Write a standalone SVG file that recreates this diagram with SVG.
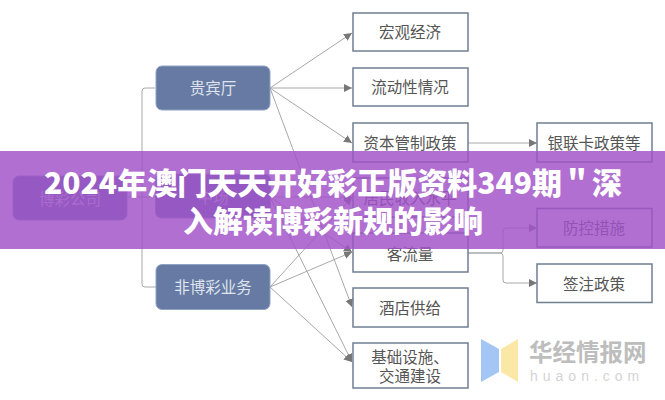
<svg xmlns="http://www.w3.org/2000/svg" width="665" height="400" viewBox="0 0 665 400">
<style>
.t{font-family:"Noto Sans CJK SC",sans-serif;font-size:15.5px;fill:#555;text-anchor:middle}
.w{font-family:"Noto Sans CJK SC",sans-serif;font-size:15.5px;fill:#dfe4ee;text-anchor:middle}
.n{fill:#fff;stroke:#6f7f90;stroke-width:1.5}
.b{fill:#667aa3;stroke:#8ea3c4;stroke-width:1}
.c{fill:none;stroke:#a8a8a8;stroke-width:1}
</style>
<defs><marker id="a" markerWidth="9" markerHeight="9" refX="8" refY="4.5" orient="auto" markerUnits="userSpaceOnUse"><path d="M0 0.5L8 4.5L0 8.5z" fill="#777"/></marker></defs>
<rect width="665" height="400" fill="#fff"/>
<g id="connectors">
<path class="c" d="M155 88H145Q142 88 142 91V284Q142 287 145 287H156"/><path class="c" d="M127 197H155"/>
<path class="c" marker-end="url(#a)" d="M270 88L352 33"/><path class="c" marker-end="url(#a)" d="M270 88H352"/><path class="c" marker-end="url(#a)" d="M270 88L352 143"/>
<path class="c" marker-end="url(#a)" d="M270 88L352 307"/><path class="c" marker-end="url(#a)" d="M270 197H352"/>
<path class="c" marker-end="url(#a)" d="M270 197L352 252"/><path class="c" marker-end="url(#a)" d="M270 197L352 362"/><path class="c" marker-end="url(#a)" d="M270 287L352 197"/>
<path class="c" marker-end="url(#a)" d="M270 287L352 252"/><path class="c" marker-end="url(#a)" d="M270 287L352 362"/>
<path class="c" marker-end="url(#a)" d="M468 143H537"/><path class="c" marker-end="url(#a)" d="M468 253H500Q503 253 503 250V231Q503 228 506 228H537"/><path class="c" marker-end="url(#a)" d="M468 253H500Q503 253 503 256V280Q503 283 506 283H537"/>
</g>
<g id="n0"><rect class="b" x="13" y="176" width="114" height="44" rx="6"/><text class="w" x="70" y="205">博彩公司</text></g>
<g id="n1"><rect class="b" x="156" y="66" width="114" height="44" rx="6"/><text class="w" x="213" y="94">贵宾厅</text></g>
<g id="n2"><rect class="b" x="155.500" y="174" width="115" height="44" rx="6"/><text class="w" x="213" y="203">中场</text></g>
<g id="n3"><rect class="b" x="156" y="264.500" width="114" height="45" rx="6"/><text class="w" x="213" y="293">非博彩业务</text></g>
<g id="n4"><rect class="n" x="353" y="13" width="115" height="38"/><text class="t" x="410" y="38">宏观经济</text></g>
<g id="n5"><rect class="n" x="353" y="68" width="115" height="38"/><text class="t" x="410" y="93">流动性情况</text></g>
<g id="n6"><rect class="n" x="353" y="123" width="115" height="39"/><text class="t" x="410" y="149">资本管制政策</text></g>
<g id="n7"><rect class="n" x="353" y="178" width="115" height="39"/><text class="t" x="410" y="204">居民收入水平</text></g>
<g id="n8"><rect class="n" x="353" y="233" width="115" height="39"/><text class="t" x="410" y="260">客流量</text></g>
<g id="n9"><rect class="n" x="353" y="288" width="115" height="39"/><text class="t" x="410" y="314">酒店供给</text></g>
<g id="n10"><rect class="n" x="353" y="343" width="115" height="45"/><text class="t" x="410" y="363">基础设施、</text><text class="t" x="410" y="382">交通建设</text></g>
<g id="n11"><rect class="n" x="537" y="123" width="115" height="39"/><text class="t" x="594" y="149">银联卡政策等</text></g>
<g id="n12"><rect class="n" x="537" y="208.500" width="115" height="38.500"/><text class="t" x="594" y="234">防控措施</text></g>
<g id="n13"><rect class="n" x="537" y="264" width="115" height="38.500"/><text class="t" x="594" y="290">签注政策</text></g>
<g id="logo"><path d="M481 339L499 349V372L481 382z" fill="#a3c6f5"/><path d="M518 339L501 349V372L518 382z" fill="#fbe8a6"/>
<text x="529" y="361" style="font-family:'Noto Sans CJK SC',sans-serif;font-size:23.500px;font-weight:700;fill:#bdbdbd">华经情报网</text>
<text x="530" y="381" style="font-family:'Liberation Sans',sans-serif;font-size:14px;letter-spacing:5px;fill:#d4d4d4">huaon.com</text></g>
<rect id="band" x="0" y="151" width="665" height="98" fill="#a052c8" fill-opacity=".83"/>
<g id="title" style="font-family:'Noto Sans CJK SC',sans-serif;font-size:30px;font-weight:900;fill:#fff;text-anchor:middle"><text x="333" y="194">2024年澳门天天开好彩正版资料349期＂深</text><text x="333" y="232">入解读博彩新规的影响</text></g>
</svg>
